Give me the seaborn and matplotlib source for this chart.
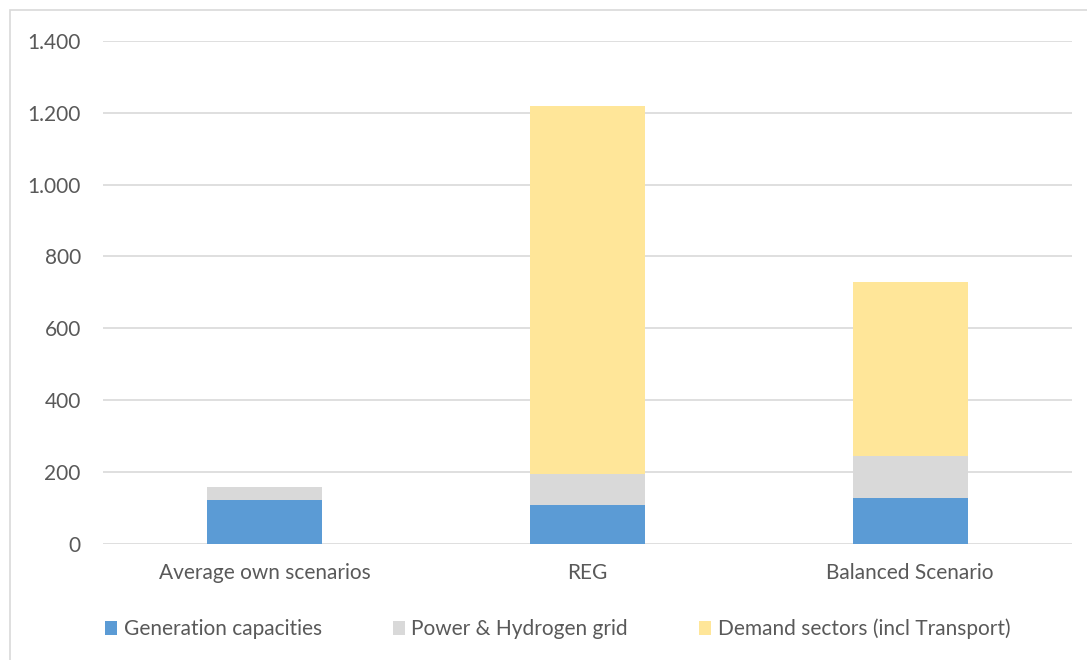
import matplotlib
matplotlib.use("Agg")
import matplotlib.pyplot as plt
import matplotlib.ticker as mticker
from matplotlib.patches import Patch, Rectangle
import numpy as np
import seaborn as sns

# values
categories = ["Average own scenarios", "REG", "Balanced Scenario"]
generation = [122, 108, 128]
grid = [35, 86, 117]
demand = [0, 1024, 485]

series_names = ["Generation capacities", "Power & Hydrogen grid",
                "Demand sectors (incl Transport)"]
colors = ["#5B9BD5", "#D9D9D9", "#FFE699"]

sns.set_theme(style="white")
plt.rcParams["font.family"] = ["Lato", "DejaVu Sans"]
text_col = "#595959"
fs = 15

fig = plt.figure(figsize=(10.87, 6.6), dpi=100)
ax = fig.add_axes([0.0948, 0.176, 0.891, 0.762])

# stacked bars: draw cumulative totals from top layer down
gen = np.array(generation)
gen_grid = gen + np.array(grid)
total = gen_grid + np.array(demand)

for vals, col in [(total, colors[2]), (gen_grid, colors[1]), (gen, colors[0])]:
    sns.barplot(x=categories, y=vals, color=col, width=0.356,
                saturation=1, linewidth=0, ax=ax, zorder=3)

ax.set_ylim(0, 1400)
ax.set_yticks(range(0, 1401, 200))
ax.yaxis.set_major_formatter(mticker.FuncFormatter(
    lambda v, p: f"{int(v):,}".replace(",", ".")))
ax.grid(axis="y", color="#D9D9D9", linewidth=1.2, zorder=0)
ax.set_axisbelow(True)
for s in ax.spines.values():
    s.set_visible(False)
ax.tick_params(axis="both", length=0, labelsize=fs, colors=text_col)
ax.tick_params(axis="y", pad=16)
ax.tick_params(axis="x", pad=14)
ax.set_xlabel("")
ax.set_ylabel("")

handles = [Patch(facecolor=c, edgecolor="none") for c in colors]
fig.legend(handles, series_names, loc="center", bbox_to_anchor=(0.513, 0.047),
           ncol=3, frameon=False, fontsize=fs, labelcolor=text_col,
           handlelength=0.6, handleheight=0.6, handletextpad=0.3,
           columnspacing=3.4)

# light frame around the chart area like the original
fig.patches.append(Rectangle((0.009, -0.01), 1.1, 0.995, transform=fig.transFigure,
                             fill=False, edgecolor="#D9D9D9", linewidth=1.2))

fig.savefig("out.png", dpi=100)
